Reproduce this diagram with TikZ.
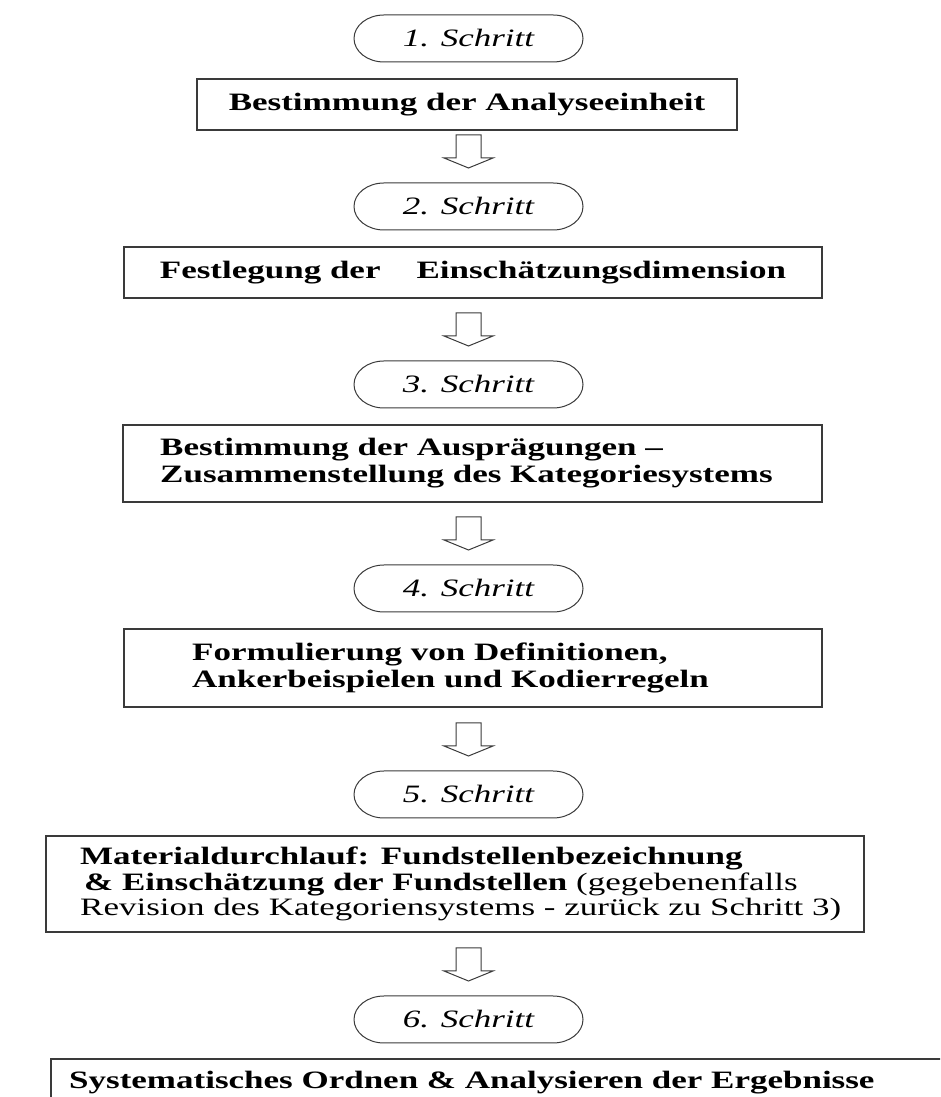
\documentclass[tikz,border=0pt]{standalone}
\usepackage{fontspec}
\setmainfont{Liberation Serif}[FakeStretch=1.4]
\usetikzlibrary{positioning}
\definecolor{lineGray}{HTML}{3A3A3A}
\newcommand\kastenfont{\fontsize{25pt}{27pt}\selectfont\bfseries}
\newcommand\schrittfont{\fontsize{25pt}{27pt}\selectfont\itshape}
\tikzset{
  box/.style    ={draw=lineGray, line width=1.4pt, inner sep=0pt, outer sep=0pt, minimum height=51pt, font=\kastenfont},
  boxtext/.style={align=left, inner sep=0pt, font=\kastenfont},
  schritt/.style={inner sep=0pt, outer sep=0pt, minimum width=169pt, minimum height=47pt, font=\schrittfont},
  rim/.style    ={draw=lineGray, line width=1pt},
  hollowarrow/.pic={
    \draw[lineGray, line width=1pt] (-12.5,33) -- (12.5,33) -- (12.5,10) -- (24.5,10)
      -- (0,0) -- (-24.5,10) -- (-12.5,10) -- cycle;},
}

\begin{document}
\begin{tikzpicture}[x=1pt, y=1pt]
  \useasboundingbox (0,0) rectangle (940,1097);
  \clip (0,0) rectangle (940,1097);

  % steps and boxes, top to bottom
  \node[schritt] (s1) at (468.5,1058.5) {1. Schritt};
  \node[box, minimum width=540pt, below=17pt of s1, xshift=-1.5pt] (b1) {Bestimmung der Analyseeinheit};
  \node[schritt, below=53pt of b1, xshift=1.5pt] (s2) {2. Schritt};
  \node[box, minimum width=698pt, below=17pt of s2, xshift=4.5pt] (b2) {Festlegung der\hspace{36pt}Einschätzungsdimension};
  \node[schritt, below=63pt of b2, xshift=-4.5pt] (s3) {3. Schritt};
  \node[box, minimum width=699pt, minimum height=77pt, below=17pt of s3, xshift=4pt] (b3) {};
  \node[schritt, below=63pt of b3, xshift=-4pt] (s4) {4. Schritt};
  \node[box, minimum width=698pt, minimum height=78pt, below=17pt of s4, xshift=4.5pt] (b4) {};
  \node[schritt, below=64pt of b4, xshift=-4.5pt] (s5) {5. Schritt};
  \node[box, minimum width=818pt, minimum height=96pt, below=18pt of s5, xshift=-13.5pt] (b5) {};
  \node[schritt, below=64pt of b5, xshift=13.5pt] (s6) {6. Schritt};
  \node[box, minimum width=939pt, minimum height=48pt, below=16pt of s6, xshift=52pt] (b6) {};

  % left aligned texts
  \node[boxtext, right=37pt of b3.west] (t3) {Bestimmung der Ausprägungen –\\Zusammenstellung des Kategoriesystems};
  \node[boxtext, right=68pt of b4.west] (t4) {Formulierung von Definitionen,\\Ankerbeispielen und Kodierregeln};
  \node[boxtext, right=34pt of b5.west, font=\fontsize{25pt}{25.5pt}\selectfont] (t5)
    {\textbf{Materialdurchlauf: Fundstellenbezeichnung}\\
     \hspace*{4pt}\textbf{\& Einschätzung der Fundstellen} (gegebenenfalls\\
     Revision des Kategoriensystems - zurück zu Schritt 3)};
  \node[boxtext, right=18pt of b6.west] (t6) {Systematisches Ordnen \& Analysieren der Ergebnisse};

  % step outlines
  \foreach \i in {1,...,6}
    \draw[rim] (s\i.north west) -- (s\i.north east)
      arc[start angle=90, end angle=-90, x radius=30pt, y radius=23.5pt]
      -- (s\i.south west)
      arc[start angle=270, end angle=90, x radius=30pt, y radius=23.5pt] -- cycle;

  % hollow arrows between box and next step
  \foreach \i in {2,...,6}
    \pic at ([yshift=15pt]s\i.north) {hollowarrow};
\end{tikzpicture}
\end{document}
